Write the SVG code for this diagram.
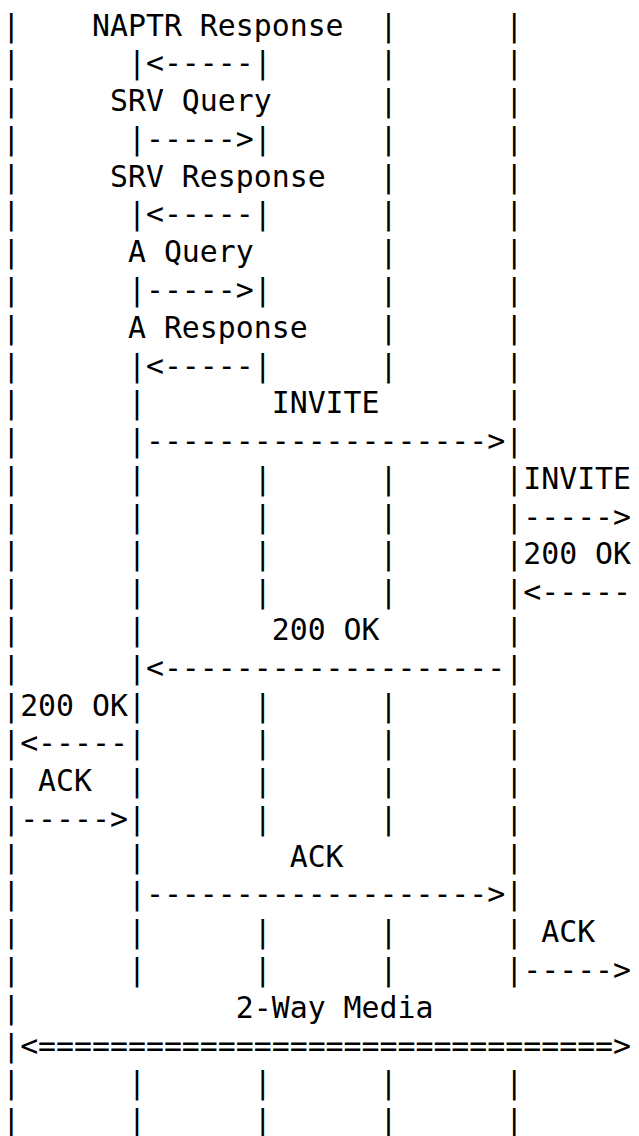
<svg xmlns="http://www.w3.org/2000/svg" width="639" height="1136" viewBox="0 0 639 1136">
<style>
text{font-family:"DejaVu Sans Mono","Liberation Mono",monospace;font-size:29.85px;fill:#000;white-space:pre}
</style>
<rect width="639" height="1136" fill="#fff"/>
<g id="call-flow" xml:space="preserve">
<text x="2.2" y="35.5">|    NAPTR Response  |      |</text>
<text x="2.2" y="73.28">|      |&lt;-----|      |      |</text>
<text x="2.2" y="111.06">|     SRV Query      |      |</text>
<text x="2.2" y="148.84">|      |-----&gt;|      |      |</text>
<text x="2.2" y="186.62">|     SRV Response   |      |</text>
<text x="2.2" y="224.4">|      |&lt;-----|      |      |</text>
<text x="2.2" y="262.18">|      A Query       |      |</text>
<text x="2.2" y="299.96">|      |-----&gt;|      |      |</text>
<text x="2.2" y="337.74">|      A Response    |      |</text>
<text x="2.2" y="375.52">|      |&lt;-----|      |      |</text>
<text x="2.2" y="413.3">|      |       INVITE       |</text>
<text x="2.2" y="451.08">|      |-------------------&gt;|</text>
<text x="2.2" y="488.86">|      |      |      |      |INVITE</text>
<text x="2.2" y="526.64">|      |      |      |      |-----&gt;</text>
<text x="2.2" y="564.42">|      |      |      |      |200 OK</text>
<text x="2.2" y="602.2">|      |      |      |      |&lt;-----</text>
<text x="2.2" y="639.98">|      |       200 OK       |</text>
<text x="2.2" y="677.76">|      |&lt;-------------------|</text>
<text x="2.2" y="715.54">|200 OK|      |      |      |</text>
<text x="2.2" y="753.32">|&lt;-----|      |      |      |</text>
<text x="2.2" y="791.1">| ACK  |      |      |      |</text>
<text x="2.2" y="828.88">|-----&gt;|      |      |      |</text>
<text x="2.2" y="866.66">|      |        ACK         |</text>
<text x="2.2" y="904.44">|      |-------------------&gt;|</text>
<text x="2.2" y="942.22">|      |      |      |      | ACK</text>
<text x="2.2" y="980.0">|      |      |      |      |-----&gt;</text>
<text x="2.2" y="1017.78">|            2-Way Media</text>
<text x="2.2" y="1055.56">|&lt;================================&gt;</text>
<text x="2.2" y="1093.34">|      |      |      |      |</text>
<text x="2.2" y="1131.12">|      |      |      |      |</text>
</g>
</svg>
